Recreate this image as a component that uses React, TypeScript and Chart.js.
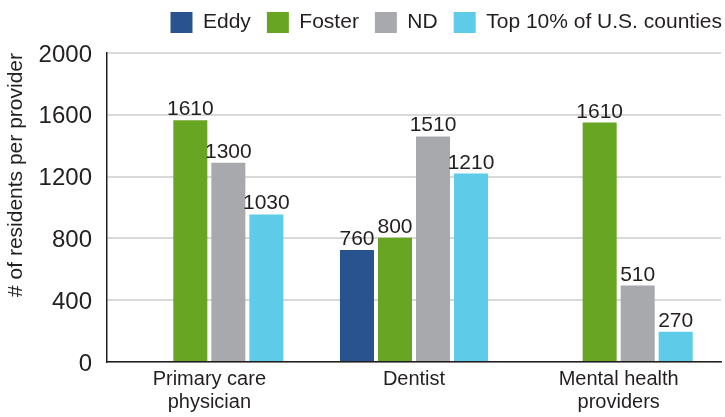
import React, { useEffect, useRef } from 'react';
import { Chart, registerables } from 'chart.js';

Chart.register(...registerables);

// ---- data ----
const categories: (string | string[])[] = [
  ['Primary care', 'physician'],
  'Dentist',
  ['Mental health', 'providers'],
];
const seriesNames = ['Eddy', 'Foster', 'ND', 'Top 10% of U.S. counties'];
const seriesColors = ['#29538f', '#68a523', '#a8a9ad', '#5ecce9'];

// bar heights as drawn in the picture
const eddyValues = [null, 725, null];
const fosterValues = [1565, 805, 1550];
const ndValues = [1290, 1460, 495];
const top10Values = [955, 1220, 195];

// printed value labels
const eddyLabels = [null, 760, null];
const fosterLabels = [1610, 800, 1610];
const ndLabels = [1300, 1510, 510];
const top10Labels = [1030, 1210, 270];

const yTicks = [0, 400, 800, 1200, 1600, 2000];
const yTitle = '# of residents per provider';

const FONT = "'Liberation Sans', Arial, Helvetica, sans-serif";
const TEXT = '#231f20';

const valueLabelPlugin = {
  id: 'valueLabels',
  afterDatasetsDraw(chart: any) {
    const ctx = chart.ctx;
    ctx.save();
    ctx.font = `21px ${FONT}`;
    ctx.fillStyle = TEXT;
    ctx.textAlign = 'center';
    ctx.textBaseline = 'alphabetic';
    chart.data.datasets.forEach((ds: any, i: number) => {
      const meta = chart.getDatasetMeta(i);
      meta.data.forEach((el: any, j: number) => {
        const lab = ds.valueLabels[j];
        if (lab === null || lab === undefined) return;
        ctx.fillText(String(lab), el.x, el.y - 5);
      });
    });
    ctx.restore();
  },
};

const legendShiftPlugin = {
  id: 'legendShift',
  afterLayout(chart: any) {
    const l = chart.legend;
    if (!l) return;
    l.left += 17;
    l.right += 17;
    l.top -= 10;
    l.bottom -= 10;
  },
};

export default function App() {
  const ref = useRef<HTMLCanvasElement | null>(null);

  useEffect(() => {
    if (!ref.current) return;
    const values = [eddyValues, fosterValues, ndValues, top10Values];
    const labels = [eddyLabels, fosterLabels, ndLabels, top10Labels];
    const chart = new Chart(ref.current, {
      type: 'bar',
      data: {
        labels: categories as any,
        datasets: seriesNames.map((name, i) => ({
          label: name,
          data: values[i] as any,
          backgroundColor: seriesColors[i],
          borderWidth: 0,
          categoryPercentage: 0.743,
          barPercentage: 0.895,
          valueLabels: labels[i],
        })) as any,
      },
      options: {
        responsive: false,
        animation: false,
        layout: { padding: { top: 6, right: 4, left: 0, bottom: 0 } },
        plugins: {
          tooltip: { enabled: false },
          legend: {
            display: true,
            position: 'top',
            align: 'end',
            labels: {
              boxWidth: 22,
              boxHeight: 21,
              padding: 16,
              color: TEXT,
              font: { family: FONT, size: 21 },
            },
          },
        },
        scales: {
          x: {
            grid: { display: false, drawTicks: false },
            border: { display: true, color: '#231f20', width: 1.5 },
            ticks: {
              color: TEXT,
              font: { family: FONT, size: 20, lineHeight: 1.15 },
              padding: 6,
              maxRotation: 0,
              autoSkip: false,
            },
            afterFit: (s: any) => {
              s.height = 55;
            },
          },
          y: {
            min: 0,
            max: 2000,
            afterBuildTicks: (s: any) => {
              s.ticks = yTicks.map((v) => ({ value: v }));
            },
            grid: { color: '#d9d9d9', lineWidth: 2, drawTicks: false },
            border: { display: true, color: '#231f20', width: 1.5 },
            ticks: {
              color: TEXT,
              font: { family: FONT, size: 24 },
              padding: 15,
              labelOffset: 2,
              callback: (v: any) => String(v),
            },
            title: {
              display: true,
              text: yTitle,
              align: 'end',
              color: TEXT,
              font: { family: FONT, size: 21 },
              padding: { top: 4, bottom: 4 },
            },
            afterFit: (s: any) => {
              s.width = 107;
            },
          },
        },
      } as any,
      plugins: [valueLabelPlugin, legendShiftPlugin],
    });
    return () => chart.destroy();
  }, []);

  return (
    <div style={{ position: 'absolute', left: 0, top: 0, width: 725, height: 417, background: '#fff' }}>
      <canvas ref={ref} width={725} height={417} style={{ display: 'block' }} />
    </div>
  );
}
